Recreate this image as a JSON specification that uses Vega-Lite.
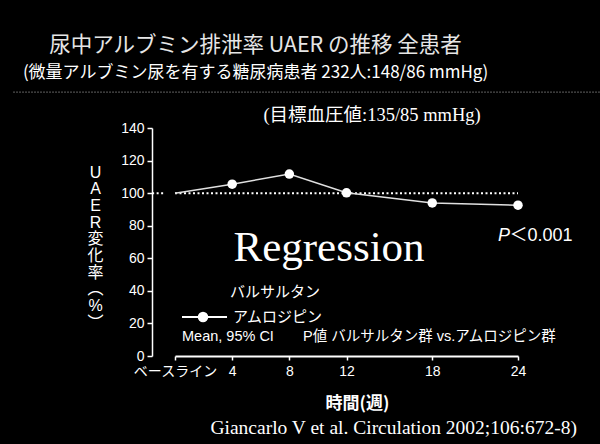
{
  "$schema": "https://vega.github.io/schema/vega-lite/v6.json",
  "width": 343,
  "height": 228,
  "autosize": {"type": "none"},
  "padding": {"left": 175, "top": 128, "right": 82, "bottom": 88},
  "background": "black",
  "config": {"view": {"stroke": null}},
  "title": {
    "text": "尿中アルブミン排泄率 UAER の推移 全患者",
    "subtitle": "(微量アルブミン尿を有する糖尿病患者 232人:148/86 mmHg)",
    "anchor": "middle",
    "frame": "group",
    "dx": -91,
    "offset": 11,
    "font": "Noto Sans CJK JP",
    "fontSize": 21.5,
    "fontWeight": "normal",
    "color": "#e6e6e6",
    "subtitleFont": "Noto Sans CJK JP",
    "subtitleFontSize": 17,
    "subtitleColor": "white",
    "subtitlePadding": 8
  },
  "datasets": {
    "series": [
      {"week": 0, "value": 100},
      {"week": 4, "value": 105.5},
      {"week": 8, "value": 111.7},
      {"week": 12, "value": 100.2},
      {"week": 18, "value": 94},
      {"week": 24, "value": 92.6}
    ],
    "refline": [
      {"week": 0, "week2": 24, "value": 100},
      {"week": -1.6, "week2": -0.7, "value": 100}
    ],
    "separator": [{"week": -11.3, "week2": 29.7, "value": 162}],
    "legendline": [{"week": 0.49, "week2": 3.64, "value": 23.9}],
    "legendpoint": [{"week": 1.96, "value": 23.9}],
    "big": [{"week": 10.78, "value": 66.3, "label": "Regression"}],
    "pitalic": [{"week": 22.6, "value": 73.7, "label": "P"}],
    "pval": [{"week": 23.4, "value": 73.7, "label": "＜0.001"}],
    "legendtext": [
      {"week": 3.85, "value": 39.3, "label": "バルサルタン"},
      {"week": 4.06, "value": 23.9, "label": "アムロジピン"}
    ],
    "note": [
      {"week": 0.49, "value": 11.7, "label": "Mean, 95% CI"},
      {"week": 8.96, "value": 11.7, "label": "P値  バルサルタン群 vs.アムロジピン群"}
    ],
    "target": [{"week": 13.79, "value": 148, "label": "(目標血圧値:135/85 mmHg)"}],
    "cite": [{"week": 15.3, "value": -44.2, "label": "Giancarlo V et al. Circulation 2002;106:672-8)"}]
  },
  "encoding": {
    "x": {
      "field": "week",
      "type": "quantitative",
      "scale": {"domain": [0, 24], "nice": false, "zero": false},
      "axis": {
        "values": [0, 4, 8, 12, 18, 24],
        "labelExpr": "datum.value == 0 ? 'ベースライン' : datum.label",
        "labelFlush": false,
        "grid": false,
        "domainColor": "white",
        "domainWidth": 2,
        "tickColor": "white",
        "tickWidth": 1.5,
        "tickSize": 4,
        "labelColor": "white",
        "labelFont": "Liberation Sans, Noto Sans CJK JP",
        "labelFontSize": 14,
        "labelPadding": 4,
        "title": "時間(週)",
        "titleFont": "Noto Sans CJK JP",
        "titleFontSize": 17,
        "titleFontWeight": "bold",
        "titleColor": "white",
        "titleX": 182,
        "titleY": 47,
        "titleBaseline": "middle"
      }
    },
    "y": {
      "field": "value",
      "type": "quantitative",
      "scale": {"domain": [0, 140], "nice": false},
      "axis": {
        "values": [0, 20, 40, 60, 80, 100, 120, 140],
        "offset": 23,
        "grid": false,
        "domainColor": "white",
        "domainWidth": 1.5,
        "tickColor": "white",
        "tickWidth": 1.5,
        "tickSize": 5,
        "labelColor": "white",
        "labelFont": "Liberation Sans",
        "labelFontSize": 14,
        "labelPadding": 3,
        "title": ["U", "A", "E", "R", "変", "化", "率", "︵", "%", "︶"],
        "titleAngle": 0,
        "titleX": -57,
        "titleY": 44,
        "titleAlign": "center",
        "titleBaseline": "middle",
        "titleLineHeight": 16.7,
        "titleFont": "Liberation Sans, Noto Sans CJK JP",
        "titleFontSize": 16,
        "titleFontWeight": "normal",
        "titleColor": "white"
      }
    }
  },
  "layer": [
    {
      "data": {"name": "separator"},
      "mark": {"type": "rule", "color": "#9a9a9a", "strokeWidth": 1.2, "strokeDash": [1, 2]},
      "encoding": {"x2": {"field": "week2"}}
    },
    {
      "data": {"name": "refline"},
      "mark": {"type": "rule", "color": "white", "strokeWidth": 2, "strokeDash": [2, 2.5]},
      "encoding": {"x2": {"field": "week2"}}
    },
    {
      "data": {"name": "series"},
      "mark": {"type": "line", "color": "#e0e0e0", "strokeWidth": 1.5},
      "encoding": {}
    },
    {
      "data": {"name": "series"},
      "transform": [{"filter": "datum.week > 0"}],
      "mark": {"type": "point", "shape": "circle", "filled": true, "color": "white", "size": 90, "opacity": 1},
      "encoding": {}
    },
    {
      "data": {"name": "legendline"},
      "mark": {"type": "rule", "color": "white", "strokeWidth": 2},
      "encoding": {"x2": {"field": "week2"}}
    },
    {
      "data": {"name": "legendpoint"},
      "mark": {"type": "point", "shape": "circle", "filled": true, "color": "white", "size": 110, "opacity": 1},
      "encoding": {}
    },
    {
      "data": {"name": "big"},
      "mark": {"type": "text", "font": "Liberation Serif", "fontSize": 43, "color": "white", "align": "center", "baseline": "middle"},
      "encoding": {"text": {"field": "label"}}
    },
    {
      "data": {"name": "pitalic"},
      "mark": {"type": "text", "font": "Liberation Sans", "fontSize": 18, "fontStyle": "italic", "color": "white", "align": "left", "baseline": "middle"},
      "encoding": {"text": {"field": "label"}}
    },
    {
      "data": {"name": "pval"},
      "mark": {"type": "text", "font": "Liberation Sans, Noto Sans CJK JP", "fontSize": 18, "color": "white", "align": "left", "baseline": "middle"},
      "encoding": {"text": {"field": "label"}}
    },
    {
      "data": {"name": "legendtext"},
      "mark": {"type": "text", "font": "Noto Sans CJK JP", "fontSize": 15, "color": "white", "align": "left", "baseline": "middle"},
      "encoding": {"text": {"field": "label"}}
    },
    {
      "data": {"name": "note"},
      "mark": {"type": "text", "font": "Liberation Sans, Noto Sans CJK JP", "fontSize": 14.5, "color": "white", "align": "left", "baseline": "middle"},
      "encoding": {"text": {"field": "label"}}
    },
    {
      "data": {"name": "target"},
      "mark": {"type": "text", "font": "Liberation Serif, Noto Sans CJK JP", "fontSize": 18.5, "color": "white", "align": "center", "baseline": "middle"},
      "encoding": {"text": {"field": "label"}}
    },
    {
      "data": {"name": "cite"},
      "mark": {"type": "text", "font": "Liberation Serif", "fontSize": 19.5, "color": "white", "align": "center", "baseline": "middle"},
      "encoding": {"text": {"field": "label"}}
    }
  ]
}
